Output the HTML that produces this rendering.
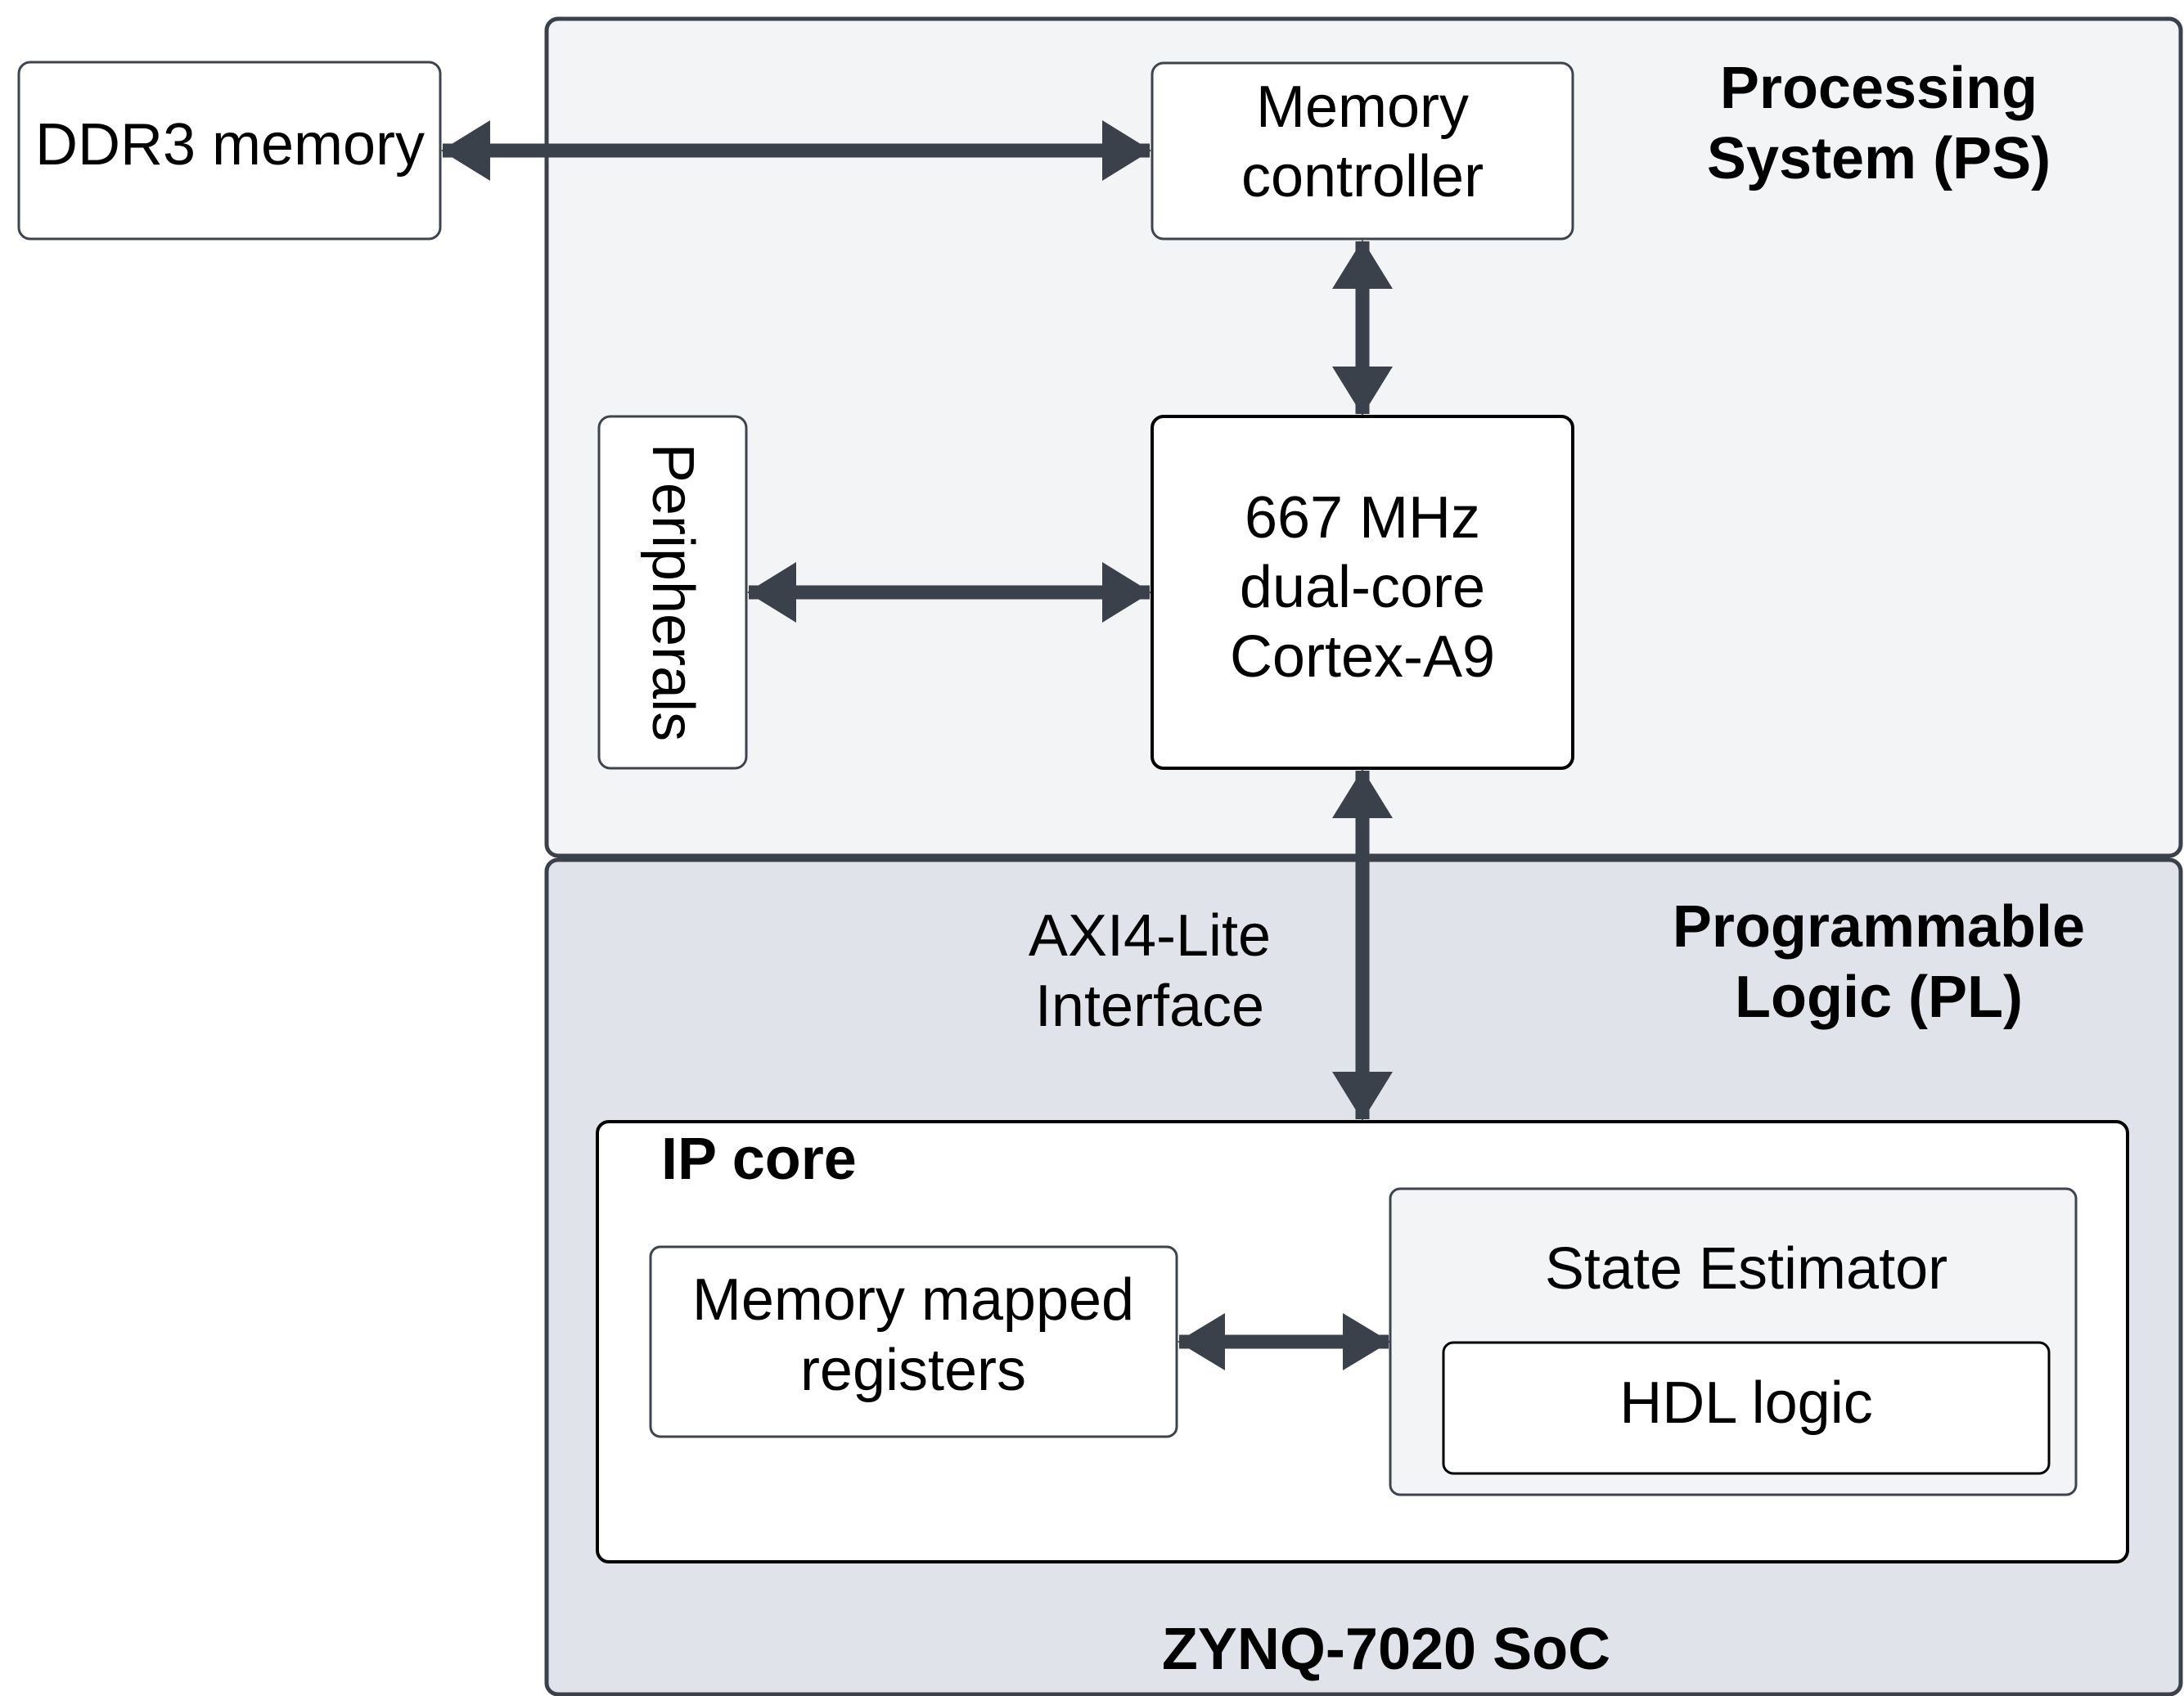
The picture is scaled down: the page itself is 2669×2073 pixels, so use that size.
<!DOCTYPE html>
<html><head><meta charset="utf-8"><style>
html,body{margin:0;padding:0;background:#fff}
svg{display:block}
text{font-family:"Liberation Sans",sans-serif;font-size:72px;fill:#000;text-anchor:middle;dominant-baseline:central}
.b{font-weight:bold}
</style></head><body>
<svg width="2669" height="2073" viewBox="0 0 2669 2073" xmlns="http://www.w3.org/2000/svg">
<defs>
<marker id="ah" viewBox="0 0 60 74" refX="58" refY="37" markerWidth="60" markerHeight="74" markerUnits="userSpaceOnUse" orient="auto-start-reverse">
<path d="M0 0 L60 37 L0 74 Z" fill="#3a414a"/></marker>
<marker id="ah2" viewBox="0 0 58 70" refX="56" refY="35" markerWidth="58" markerHeight="70" markerUnits="userSpaceOnUse" orient="auto-start-reverse">
<path d="M0 0 L58 35 L0 70 Z" fill="#3a414a"/></marker>
</defs>
<!-- PS -->
<rect x="668" y="23" width="1997" height="1023" rx="14" fill="#f3f4f6" stroke="#3a414a" stroke-width="5"/>
<!-- PL -->
<rect x="668" y="1051" width="1997" height="1020" rx="14" fill="#e0e3ea" stroke="#3a414a" stroke-width="5"/>
<!-- DDR -->
<rect x="23" y="76" width="515" height="216" rx="14" fill="#fff" stroke="#3d444d" stroke-width="3"/>
<text x="281" y="177">DDR3 memory</text>
<!-- Memory controller -->
<rect x="1408" y="77" width="514" height="215" rx="14" fill="#fff" stroke="#3d444d" stroke-width="3"/>
<text x="1665" y="131">Memory</text>
<text x="1665" y="216">controller</text>
<!-- CPU -->
<rect x="1408" y="509" width="514" height="430" rx="14" fill="#fff" stroke="#000" stroke-width="4"/>
<text x="1665" y="633">667 MHz</text>
<text x="1665" y="718">dual-core</text>
<text x="1665" y="803">Cortex-A9</text>
<!-- Peripherals -->
<rect x="732" y="509" width="180" height="430" rx="14" fill="#fff" stroke="#3d444d" stroke-width="3"/>
<text x="822" y="724" transform="rotate(90 822 724)">Peripherals</text>
<!-- titles -->
<text class="b" x="2296" y="108">Processing</text>
<text class="b" x="2296" y="194">System (PS)</text>
<text class="b" x="2296" y="1133">Programmable</text>
<text class="b" x="2296" y="1219">Logic (PL)</text>
<text x="1405" y="1144">AXI4-Lite</text>
<text x="1405" y="1230">Interface</text>
<text class="b" x="1694" y="2016">ZYNQ-7020 SoC</text>
<!-- IP core -->
<rect x="730" y="1371" width="1870" height="538" rx="14" fill="#fff" stroke="#000" stroke-width="4"/>
<text class="b" x="808" y="1417" style="text-anchor:start">IP core</text>
<rect x="795" y="1524" width="643" height="232" rx="12" fill="#fff" stroke="#3d444d" stroke-width="3"/>
<text x="1116" y="1589">Memory mapped</text>
<text x="1116" y="1675">registers</text>
<rect x="1699" y="1453" width="838" height="374" rx="12" fill="#f3f4f6" stroke="#3d444d" stroke-width="3"/>
<text x="2134" y="1551">State Estimator</text>
<rect x="1764" y="1641" width="740" height="160" rx="12" fill="#fff" stroke="#000" stroke-width="3"/>
<text x="2134" y="1715">HDL logic</text>
<!-- arrows -->
<g stroke="#3a414a" stroke-width="17" fill="none">
<line x1="541" y1="184" x2="1405" y2="184" marker-start="url(#ah)" marker-end="url(#ah)"/>
<line x1="1665" y1="295" x2="1665" y2="506" marker-start="url(#ah)" marker-end="url(#ah)"/>
<line x1="915" y1="724" x2="1405" y2="724" marker-start="url(#ah)" marker-end="url(#ah)"/>
<line x1="1665" y1="942" x2="1665" y2="1368" marker-start="url(#ah)" marker-end="url(#ah)"/>
<line x1="1441" y1="1640" x2="1697" y2="1640" marker-start="url(#ah2)" marker-end="url(#ah2)"/>
</g>
</svg>
</body></html>
